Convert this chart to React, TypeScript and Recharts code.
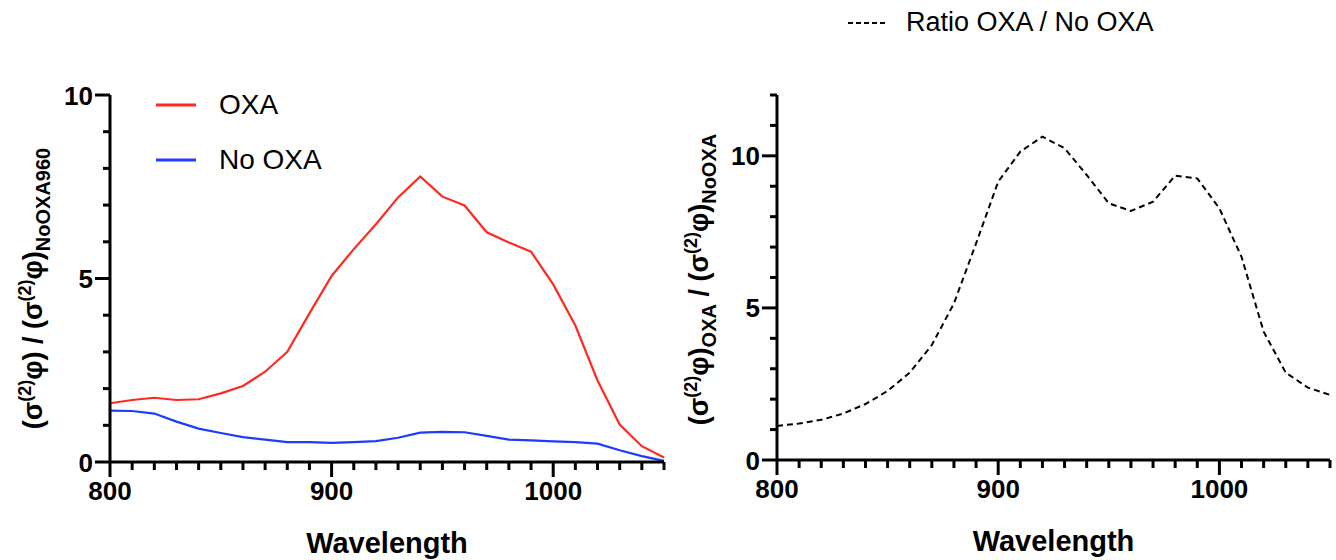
import React from "react";
import { Legend, Line, LineChart, XAxis, YAxis } from "recharts";

// Two-photon action cross-section spectra: OXA vs No OXA (left) and their ratio (right).

const wavelengths = [
  800, 810, 820, 830, 840, 850, 860, 870, 880, 890, 900, 910, 920,
  930, 940, 950, 960, 970, 980, 990, 1000, 1010, 1020, 1030, 1040, 1050,
];
const oxa = [
  1.6, 1.69, 1.75, 1.69, 1.71, 1.87, 2.07, 2.46, 3.0, 4.05, 5.07, 5.8, 6.48,
  7.21, 7.78, 7.23, 6.99, 6.26, 5.98, 5.73, 4.84, 3.72, 2.22, 1.02, 0.43, 0.12,
];
const noOxa = [
  1.4, 1.39, 1.32, 1.1, 0.91, 0.79, 0.68, 0.61, 0.54, 0.54, 0.52, 0.54, 0.57,
  0.66, 0.8, 0.82, 0.81, 0.71, 0.61, 0.59, 0.56, 0.54, 0.5, 0.32, 0.16, 0.03,
];
const ratio = [
  1.12, 1.2, 1.32, 1.53, 1.84, 2.27, 2.87, 3.78, 5.15, 7.12, 9.15, 10.14, 10.63,
  10.25, 9.37, 8.44, 8.19, 8.49, 9.35, 9.26, 8.27, 6.68, 4.22, 2.87, 2.38, 2.14,
];

const xTicks = [
  800, 810, 820, 830, 840, 850, 860, 870, 880, 890, 900, 910, 920,
  930, 940, 950, 960, 970, 980, 990, 1000, 1010, 1020, 1030, 1040, 1050,
];
const xLabels = [800, 900, 1000];
const leftYTicks = [0, 1, 2, 3, 4, 5, 6, 7, 8, 9, 10];
const rightYTicks = [0, 1, 2, 3, 4, 5, 6, 7, 8, 9, 10, 11, 12];
const yLabels = [0, 5, 10];

const spectra = wavelengths.map((w, i) => ({ w, oxa: oxa[i], noOxa: noOxa[i] }));
const ratios = wavelengths.map((w, i) => ({ w, ratio: ratio[i] }));

const FONT = "'Liberation Sans', Arial, Helvetica, sans-serif";
const RED = "#ff2a1f";
const BLUE = "#1c3cff";

function XTick({ x, y, payload }: any) {
  const major = xLabels.includes(payload.value);
  return (
    <g>
      <line x1={x} x2={x} y1={y} y2={y + (major ? 15 : 8)} stroke="#000" strokeWidth={3} />
      {major && (
        <text x={x} y={y + 38} textAnchor="middle" fontFamily={FONT} fontWeight={700} fontSize={26} fill="#000">
          {payload.value}
        </text>
      )}
    </g>
  );
}

function YTick({ x, y, payload }: any) {
  const major = yLabels.includes(payload.value);
  return (
    <g>
      <line x1={x} x2={x - (major ? 15 : 7)} y1={y} y2={y} stroke="#000" strokeWidth={3} />
      {major && (
        <text x={x - 17} y={y + 9.5} textAnchor="end" fontFamily={FONT} fontWeight={700} fontSize={26} fill="#000">
          {payload.value}
        </text>
      )}
    </g>
  );
}

const titleProps = { fontFamily: FONT, fontWeight: 700, fill: "#000" };

function LeftYTitle({ viewBox }: any) {
  const cx = viewBox.x - 8;
  const cy = viewBox.y + viewBox.height / 2 + 10;
  return (
    <text transform={`translate(${cx},${cy}) rotate(-90)`} textAnchor="middle" fontSize={27} {...titleProps}>
      <tspan>(σ</tspan>
      <tspan dy={-11} fontSize={18}>(2)</tspan>
      <tspan dy={11}>φ) / (σ</tspan>
      <tspan dy={-11} fontSize={18}>(2)</tspan>
      <tspan dy={11}>φ)</tspan>
      <tspan dy={8} fontSize={20}>NoOXA960</tspan>
    </text>
  );
}

function RightYTitle({ viewBox }: any) {
  const cx = viewBox.x - 9;
  const cy = viewBox.y + viewBox.height / 2 + 2;
  return (
    <text transform={`translate(${cx},${cy}) rotate(-90)`} textAnchor="middle" fontSize={27} {...titleProps}>
      <tspan>(σ</tspan>
      <tspan dy={-11} fontSize={18}>(2)</tspan>
      <tspan dy={11}>φ)</tspan>
      <tspan dy={8} fontSize={20}>OXA</tspan>
      <tspan dy={-8}> / (σ</tspan>
      <tspan dy={-11} fontSize={18}>(2)</tspan>
      <tspan dy={11}>φ)</tspan>
      <tspan dy={8} fontSize={20}>NoOXA</tspan>
    </text>
  );
}

function XTitle({ viewBox }: any) {
  return (
    <text x={viewBox.x + viewBox.width / 2} y={viewBox.y + 91} textAnchor="middle" fontSize={29} {...titleProps}>
      Wavelength
    </text>
  );
}

function LegendRow({ color, dash, label, size, gap }: any) {
  return (
    <div style={{ display: "flex", alignItems: "center", height: 55 }}>
      <svg width={42} height={6} style={{ marginRight: gap }}>
        <line x1={1} x2={41} y1={3} y2={3} stroke={color} strokeWidth={dash ? 2 : 3} strokeDasharray={dash} />
      </svg>
      <span style={{ fontFamily: FONT, fontSize: size, color: "#000", lineHeight: 1 }}>{label}</span>
    </div>
  );
}

const leftLegend = () => (
  <div>
    <LegendRow color={RED} label="OXA" size={28} gap={22} />
    <LegendRow color={BLUE} label="No OXA" size={28} gap={22} />
  </div>
);

const rightLegend = () => (
  <div>
    <LegendRow color="#000" dash="5 3" label="Ratio OXA / No OXA" size={27} gap={17} />
  </div>
);

export default function App() {
  return (
    <div style={{ position: "absolute", left: 0, top: 0, width: 1336, height: 560, background: "#fff" }}>
      <div style={{ position: "absolute", left: 0, top: 0 }}>
        <LineChart width={680} height={560} data={spectra} margin={{ top: 95, right: 16, bottom: 38, left: 50 }}>
          <XAxis
            dataKey="w"
            type="number"
            domain={[800, 1050]}
            ticks={xTicks}
            interval={0}
            tick={<XTick />}
            tickLine={false}
            tickSize={0}
            tickMargin={0}
            height={60}
            axisLine={{ stroke: "#000", strokeWidth: 3 }}
            label={{ content: <XTitle /> }}
          />
          <YAxis
            type="number"
            domain={[0, 10]}
            ticks={leftYTicks}
            interval={0}
            tick={<YTick />}
            tickLine={false}
            tickSize={0}
            tickMargin={0}
            width={60}
            axisLine={{ stroke: "#000", strokeWidth: 3 }}
            label={{ content: <LeftYTitle /> }}
          />
          <Legend
            layout="vertical"
            verticalAlign="middle"
            align="center"
            content={leftLegend}
            wrapperStyle={{ left: 155, top: 77, width: 260 }}
          />
          <Line dataKey="oxa" stroke={RED} strokeWidth={2.2} dot={false} isAnimationActive={false} />
          <Line dataKey="noOxa" stroke={BLUE} strokeWidth={2.2} dot={false} isAnimationActive={false} />
        </LineChart>
      </div>
      <div style={{ position: "absolute", left: 620, top: 0 }}>
        <LineChart width={716} height={560} data={ratios} margin={{ top: 95, right: 6, bottom: 40, left: 97 }}>
          <XAxis
            dataKey="w"
            type="number"
            domain={[800, 1050]}
            ticks={xTicks}
            interval={0}
            tick={<XTick />}
            tickLine={false}
            tickSize={0}
            tickMargin={0}
            height={60}
            axisLine={{ stroke: "#000", strokeWidth: 3 }}
            label={{ content: <XTitle /> }}
          />
          <YAxis
            type="number"
            domain={[0, 12]}
            ticks={rightYTicks}
            interval={0}
            tick={<YTick />}
            tickLine={false}
            tickSize={0}
            tickMargin={0}
            width={60}
            axisLine={{ stroke: "#000", strokeWidth: 3 }}
            label={{ content: <RightYTitle /> }}
          />
          <Legend
            layout="vertical"
            verticalAlign="middle"
            align="center"
            content={rightLegend}
            wrapperStyle={{ left: 227, top: -5, width: 400 }}
          />
          <Line
            dataKey="ratio"
            stroke="#000"
            strokeWidth={2}
            strokeDasharray="6 4"
            dot={false}
            isAnimationActive={false}
          />
        </LineChart>
      </div>
    </div>
  );
}
